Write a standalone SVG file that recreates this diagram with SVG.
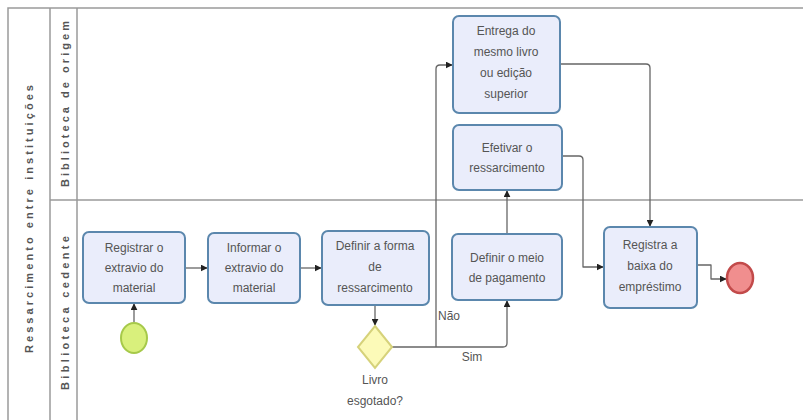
<svg xmlns="http://www.w3.org/2000/svg" width="803" height="420" viewBox="0 0 803 420">
<style>
.lane{fill:none;stroke:#9a9a9a;stroke-width:1.5}
.task{fill:#eaedfb;stroke:#5b87ad;stroke-width:2}
.t{font-family:"Liberation Sans",Arial,sans-serif;font-size:12px;fill:#555;text-anchor:middle}
.lbl{font-family:"Liberation Sans",Arial,sans-serif;font-size:11px;font-weight:bold;fill:#555;text-anchor:middle}
.c{fill:none;stroke:#666;stroke-width:1.3;stroke-linejoin:round}
</style>
<defs>
<marker id="ar" viewBox="0 0 10 10" refX="9" refY="5" markerWidth="7" markerHeight="7" orient="auto" markerUnits="userSpaceOnUse">
<path d="M0,0 L10,5 L0,10 z" fill="#222"/>
</marker>
</defs>
<rect width="803" height="420" fill="#fff"/>
<g id="pool">
<path class="lane" d="M803,8 H8 V420 M50,8 V420 M77,8 V420 M50,200 H803"/>
<text class="lbl" transform="translate(33,219) rotate(-90)" textLength="268" lengthAdjust="spacing">Ressarcimento entre instituições</text>
<text class="lbl" transform="translate(69,104) rotate(-90)" textLength="166" lengthAdjust="spacing">Biblioteca de origem</text>
<text class="lbl" transform="translate(69,313) rotate(-90)" textLength="154" lengthAdjust="spacing">Biblioteca cedente</text>
</g>
<g id="connectors">
<path class="c" d="M134,322 V304" marker-end="url(#ar)"/>
<path class="c" d="M185,268 H207" marker-end="url(#ar)"/>
<path class="c" d="M300,268 H321" marker-end="url(#ar)"/>
<path class="c" d="M375,305 V325" marker-end="url(#ar)"/>
<path class="c" d="M392,347 H503 Q507,347 507,343 V301" marker-end="url(#ar)"/>
<path class="c" d="M436,347 V69 Q436,65 440,65 H452" marker-end="url(#ar)"/>
<path class="c" d="M507,234 V191" marker-end="url(#ar)"/>
<path class="c" d="M562,156 H579 Q583,156 583,160 V267 H603" marker-end="url(#ar)"/>
<path class="c" d="M560,64 H646 Q650,64 650,68 V226" marker-end="url(#ar)"/>
<path class="c" d="M697,265 H711 V279 H726" marker-end="url(#ar)"/>
<text class="t" x="449" y="320" font-size="11">Não</text>
<text class="t" x="472" y="361" font-size="11">Sim</text>
</g>
<g id="start"><ellipse cx="134" cy="338" rx="13" ry="15" fill="#d9f07c" stroke="#a6c94a" stroke-width="2"/></g>
<g id="registrar">
<rect class="task" x="83" y="232" width="102" height="71" rx="6"/>
<text class="t" x="134" y="252">Registrar o</text>
<text class="t" x="134" y="272">extravio do</text>
<text class="t" x="134" y="292">material</text>
</g>
<g id="informar">
<rect class="task" x="208" y="233" width="92" height="70" rx="6"/>
<text class="t" x="254" y="252">Informar o</text>
<text class="t" x="254" y="272">extravio do</text>
<text class="t" x="254" y="292">material</text>
</g>
<g id="definirForma">
<rect class="task" x="322" y="231" width="107" height="74" rx="6"/>
<text class="t" x="375" y="250">Definir a forma</text>
<text class="t" x="375" y="271">de</text>
<text class="t" x="375" y="292">ressarcimento</text>
</g>
<g id="gateway">
<polygon points="375,326 392,347 375,368 358,347" fill="#fcfab8" stroke="#d6d27a" stroke-width="2"/>
<text class="t" x="375" y="384">Livro</text>
<text class="t" x="375" y="405">esgotado?</text>
</g>
<g id="definirMeio">
<rect class="task" x="452" y="234" width="110" height="66" rx="6"/>
<text class="t" x="507" y="262">Definir o meio</text>
<text class="t" x="507" y="282">de pagamento</text>
</g>
<g id="efetivar">
<rect class="task" x="453" y="125" width="109" height="65" rx="6"/>
<text class="t" x="507" y="152">Efetivar o</text>
<text class="t" x="507" y="172">ressarcimento</text>
</g>
<g id="entrega">
<rect class="task" x="453" y="16" width="107" height="97" rx="6"/>
<text class="t" x="506" y="35">Entrega do</text>
<text class="t" x="506" y="56">mesmo livro</text>
<text class="t" x="506" y="77">ou edição</text>
<text class="t" x="506" y="98">superior</text>
</g>
<g id="registra">
<rect class="task" x="604" y="227" width="93" height="81" rx="6"/>
<text class="t" x="650" y="249">Registra a</text>
<text class="t" x="650" y="270">baixa do</text>
<text class="t" x="650" y="291">empréstimo</text>
</g>
<g id="end"><ellipse cx="740" cy="278" rx="13" ry="15" fill="#f08e8e" stroke="#c24a4a" stroke-width="2.5"/></g>
</svg>
